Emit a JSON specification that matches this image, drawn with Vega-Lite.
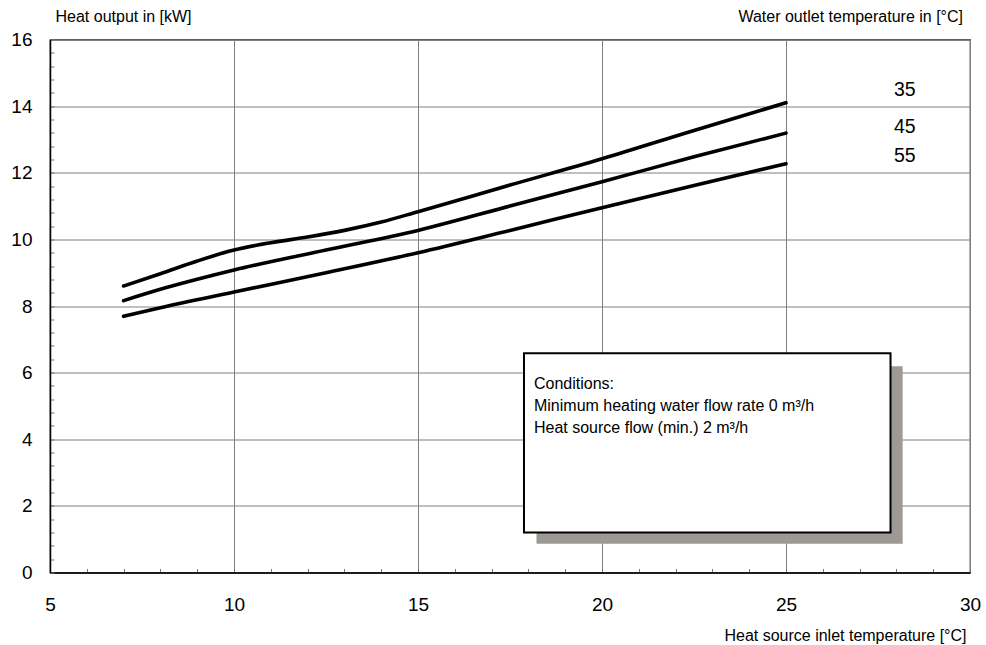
{
  "$schema": "https://vega.github.io/schema/vega-lite/v6.json",
  "width": 920,
  "height": 533,
  "autosize": {"type": "none"},
  "padding": {"left": 50, "top": 39.5, "right": 16, "bottom": 72.5},
  "background": "white",
  "config": {
    "font": "Liberation Sans",
    "view": {"stroke": "#000", "strokeWidth": 1.2}
  },
  "datasets": {
    "curves": [
      {"series": "35", "x": 7, "y": 8.60},
      {"series": "35", "x": 8, "y": 8.97},
      {"series": "35", "x": 9, "y": 9.35},
      {"series": "35", "x": 10, "y": 9.68},
      {"series": "35", "x": 11, "y": 9.90},
      {"series": "35", "x": 12, "y": 10.07},
      {"series": "35", "x": 13, "y": 10.27},
      {"series": "35", "x": 14, "y": 10.52},
      {"series": "35", "x": 15, "y": 10.83},
      {"series": "35", "x": 17.5, "y": 11.63},
      {"series": "35", "x": 20, "y": 12.42},
      {"series": "35", "x": 22.5, "y": 13.27},
      {"series": "35", "x": 25, "y": 14.10},
      {"series": "45", "x": 7, "y": 8.16},
      {"series": "45", "x": 8, "y": 8.50},
      {"series": "45", "x": 9, "y": 8.80},
      {"series": "45", "x": 10, "y": 9.08},
      {"series": "45", "x": 12.5, "y": 9.68},
      {"series": "45", "x": 15, "y": 10.27},
      {"series": "45", "x": 17.5, "y": 11.00},
      {"series": "45", "x": 20, "y": 11.73},
      {"series": "45", "x": 22.5, "y": 12.48},
      {"series": "45", "x": 25, "y": 13.19},
      {"series": "55", "x": 7, "y": 7.69},
      {"series": "55", "x": 8, "y": 7.95},
      {"series": "55", "x": 10, "y": 8.42},
      {"series": "55", "x": 12.5, "y": 9.00},
      {"series": "55", "x": 15, "y": 9.60},
      {"series": "55", "x": 17.5, "y": 10.27},
      {"series": "55", "x": 20, "y": 10.95},
      {"series": "55", "x": 22.5, "y": 11.62},
      {"series": "55", "x": 25, "y": 12.27}
    ],
    "labels": [
      {"series": "35", "lx": 28.23, "ly": 14.49},
      {"series": "45", "lx": 28.23, "ly": 13.37},
      {"series": "55", "lx": 28.23, "ly": 12.51}
    ],
    "one": [{}]
  },
  "layer": [
    {
      "data": {"name": "curves"},
      "mark": {"type": "line", "color": "#000", "strokeWidth": 3.6, "strokeCap": "round", "interpolate": "monotone"},
      "encoding": {
        "x": {
          "field": "x", "type": "quantitative",
          "scale": {"domain": [5, 30], "nice": false, "zero": false},
          "axis": {
            "values": [5,6,7,8,9,10,11,12,13,14,15,16,17,18,19,20,21,22,23,24,25,26,27,28,29,30],
            "tickCount": 200,
            "labelExpr": "datum.value % 5 === 0 ? format(datum.value, 'd') : ''",
            "labelFlush": false,
            "labelOverlap": false,
            "labelFontSize": 19,
            "labelColor": "#000",
            "labelPadding": 35.5,
            "labelBaseline": "middle",
            "tickSize": -4,
            "tickColor": "#777",
            "domainColor": "#000",
            "domainWidth": 1.5,
            "grid": true,
            "gridColor": "#808080",
            "gridWidth": 1,
            "gridOpacity": {"condition": {"test": "datum.value % 5 === 0", "value": 1}, "value": 0},
            "title": "Heat source inlet temperature [°C]",
            "titleFontSize": 16,
            "titleFontWeight": "normal",
            "titleColor": "#000",
            "titleAlign": "right",
            "titleBaseline": "middle",
            "titleX": 916,
            "titleY": 62.5
          }
        },
        "y": {
          "field": "y", "type": "quantitative",
          "scale": {"domain": [0, 16], "nice": false},
          "axis": {
            "values": [0,0.4,0.8,1.2,1.6,2,2.4,2.8,3.2,3.6,4,4.4,4.8,5.2,5.6,6,6.4,6.8,7.2,7.6,8,8.4,8.8,9.2,9.6,10,10.4,10.8,11.2,11.6,12,12.4,12.8,13.2,13.6,14,14.4,14.8,15.2,15.6,16],
            "tickCount": 200,
            "labelExpr": "datum.value % 2 === 0 ? format(datum.value, 'd') : ''",
            "labelOverlap": false,
            "labelFlush": false,
            "labelFontSize": 19,
            "labelColor": "#000",
            "labelPadding": 22,
            "tickSize": -4,
            "tickColor": "#777",
            "domainColor": "#000",
            "domainWidth": 1.5,
            "grid": true,
            "gridColor": "#808080",
            "gridWidth": 1,
            "gridOpacity": {"condition": {"test": "datum.value % 2 === 0", "value": 1}, "value": 0},
            "title": "Heat output in [kW]",
            "titleAngle": 0,
            "titleFontSize": 16,
            "titleFontWeight": "normal",
            "titleColor": "#000",
            "titleAlign": "left",
            "titleBaseline": "middle",
            "titleX": 5,
            "titleY": -23
          }
        },
        "detail": {"field": "series", "type": "nominal"}
      }
    },
    {
      "data": {"name": "one"},
      "mark": {"type": "rect", "fill": "#9d9a95"},
      "encoding": {
        "x": {"datum": 18.22},
        "x2": {"datum": 28.17},
        "y": {"datum": 6.19},
        "y2": {"datum": 0.86}
      }
    },
    {
      "data": {"name": "one"},
      "mark": {"type": "rect", "fill": "#ffffff", "stroke": "#000", "strokeWidth": 2},
      "encoding": {
        "x": {"datum": 17.88},
        "x2": {"datum": 27.84},
        "y": {"datum": 6.58},
        "y2": {"datum": 1.2}
      }
    },
    {
      "data": {"name": "one"},
      "mark": {
        "type": "text",
        "text": ["Conditions:", "Minimum heating water flow rate 0 m³/h", "Heat source flow (min.) 2 m³/h"],
        "align": "left",
        "baseline": "middle",
        "lineHeight": 22,
        "fontSize": 16,
        "color": "#000",
        "dx": 10,
        "dy": 31
      },
      "encoding": {
        "x": {"datum": 17.88},
        "y": {"datum": 6.58}
      }
    },
    {
      "data": {"name": "labels"},
      "mark": {"type": "text", "fontSize": 19.5, "color": "#000", "align": "center", "baseline": "middle"},
      "encoding": {
        "x": {"field": "lx", "type": "quantitative"},
        "y": {"field": "ly", "type": "quantitative"},
        "text": {"field": "series"}
      }
    },
    {
      "data": {"name": "one"},
      "mark": {
        "type": "text",
        "text": "Water outlet temperature in [°C]",
        "align": "right",
        "baseline": "middle",
        "fontSize": 16,
        "color": "#000",
        "dx": -7,
        "dy": -23
      },
      "encoding": {
        "x": {"datum": 30},
        "y": {"datum": 16}
      }
    }
  ]
}
